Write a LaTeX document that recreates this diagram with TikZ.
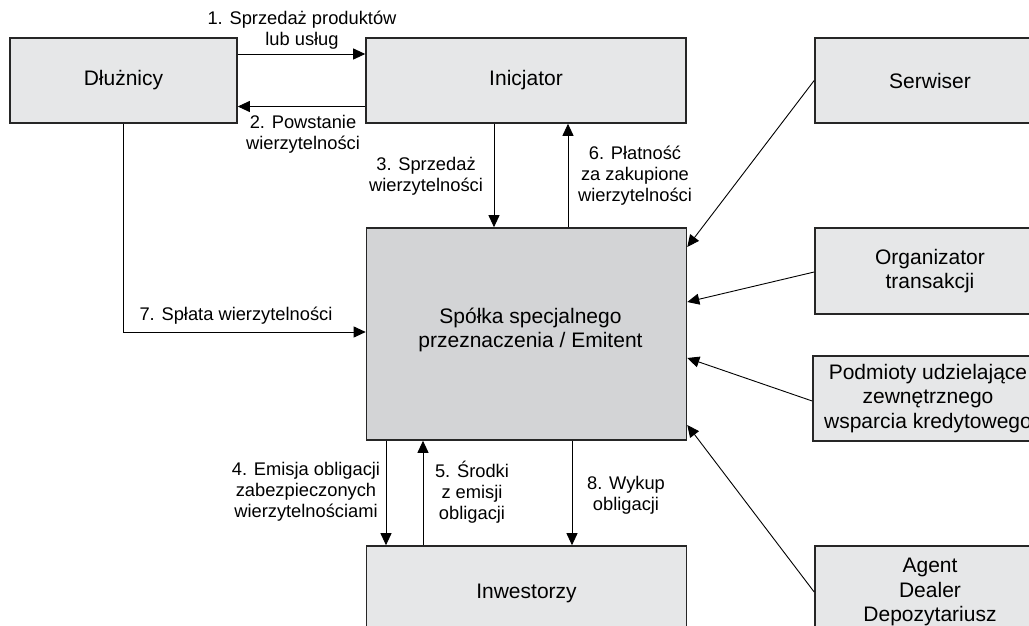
\documentclass[tikz,border=0pt]{standalone}
\usepackage{fontspec}
\setmainfont{Liberation Sans}
\usetikzlibrary{arrows.meta}
\definecolor{boxfill}{HTML}{E6E7E8}
\definecolor{midfill}{HTML}{D3D4D6}
\definecolor{edge}{HTML}{262626}
\tikzset{
  box/.style={draw=edge, line width=1.6pt, fill=boxfill, rectangle, align=center,
    inner sep=0pt, font=\fontsize{21}{24.5}\selectfont},
  mid/.style={box, fill=midfill},
  arr/.style={line width=0.9pt, -{Triangle[length=12pt,width=11pt]}},
  lbl/.style={align=center, inner sep=0pt, font=\fontsize{18.3}{21}\selectfont}
}
\begin{document}
\begin{tikzpicture}[x=1pt,y=-1pt]
\useasboundingbox (0,0) rectangle (1029,626);
\begin{scope}
\clip (0,0) rectangle (1029,626);
\node[box, minimum width=227pt, minimum height=85pt] (dl) at (123.5,80.5) {Dłużnicy};
\node[box, minimum width=320pt, minimum height=85pt] (ini) at (526,80.5) {Inicjator};
\node[box, minimum width=230pt, minimum height=85pt] (ser) at (930,80.5) {Serwiser};
\node[mid, minimum width=320pt, minimum height=212pt] (spv) at (526.5,334) {};
\node[inner sep=0pt, align=center, font=\fontsize{21}{24.5}\selectfont] (spvt) at ([xshift=4pt,yshift=4pt]spv.center) {Spółka specjalnego\\przeznaczenia / Emitent};
\node[box, minimum width=230pt, minimum height=86pt] (org) at (930,271) {Organizator\\transakcji};
\node[box, minimum width=230pt, minimum height=85pt] (pod) at (928,398.5) {Podmioty udzielające\\zewnętrznego\\wsparcia kredytowego};
\node[box, minimum width=320pt, minimum height=94pt] (inw) at (526.5,593) {Inwestorzy};
\node[box, minimum width=230pt, minimum height=92pt] (age) at (930,592) {Agent\\Dealer\\Depozytariusz};
\end{scope}

\draw[arr] ([yshift=26.5pt]dl.east) -- ([yshift=26.5pt]ini.west);
\draw[arr] ([yshift=-26pt]ini.west) -- ([yshift=-26pt]dl.east);
\draw[arr] ([xshift=-32pt]ini.south) -- ([xshift=-32.5pt]spv.north);
\draw[arr] ([xshift=41.5pt]spv.north) -- ([xshift=42pt]ini.south);
\draw[arr] (dl.south) |- ([yshift=2pt]spv.west);
\draw[arr] (ser.west) -- ([yshift=87pt]spv.east);
\draw[arr] ([yshift=-1pt]org.west) -- ([yshift=32pt]spv.east);
\draw[arr] ([yshift=-2.5pt]pod.west) -- ([yshift=-24pt]spv.east);
\draw[arr] (age.west) -- ([yshift=-91pt]spv.east);
\draw[arr] ([xshift=-140.5pt]spv.south) -- ([xshift=-140.5pt]inw.north);
\draw[arr] ([xshift=-103.5pt]inw.north) -- ([xshift=-103.5pt]spv.south);
\draw[arr] ([xshift=45.5pt]spv.south) -- ([xshift=45.5pt]inw.north);

\node[lbl] (l1) at (302,30.5) {1. Sprzedaż produktów\\lub usług};
\node[lbl] (l2) at (303,134.5) {2. Powstanie\\wierzytelności};
\node[lbl] (l3) at (426,176) {3. Sprzedaż\\wierzytelności};
\node[lbl] (l6) at (635,176) {6. Płatność\\za zakupione\\wierzytelności};
\node[lbl] (l7) at (236,316) {7. Spłata wierzytelności};
\node[lbl] (l4) at (306,492) {4. Emisja obligacji\\zabezpieczonych\\wierzytelnościami};
\node[lbl] (l5) at (472,492) {5. Środki\\z emisji\\obligacji};
\node[lbl] (l8) at (626,495) {8. Wykup\\obligacji};
\end{tikzpicture}
\end{document}
